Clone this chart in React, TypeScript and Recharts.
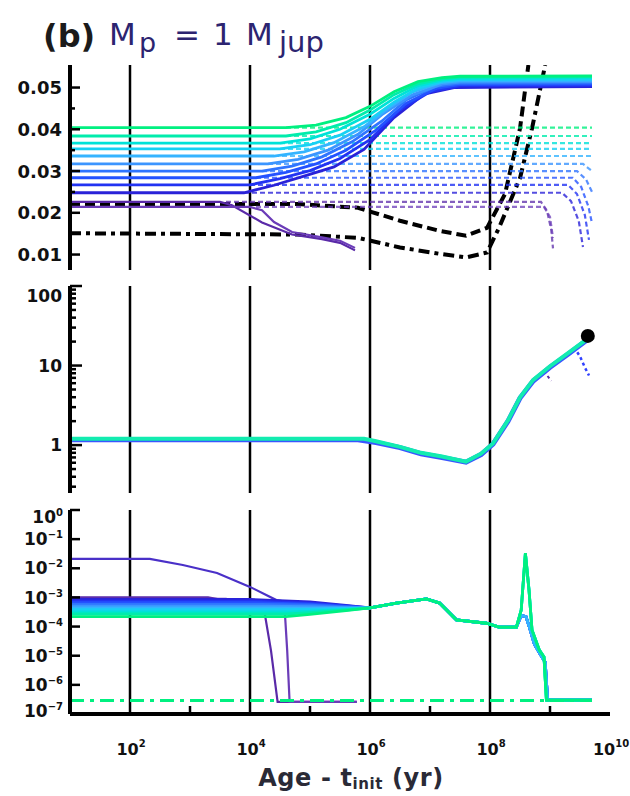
import React from 'react';
import { ComposedChart, Line, Scatter, XAxis, YAxis, ReferenceLine } from 'recharts';

type Pt = [number, number];

// x values are log10(Age - t_init / yr)
const xGrid = [2, 4, 6, 8];
const xMinor = [3, 5, 7, 9];
const xLabelExp = [2, 4, 6, 8, 10];

const modelColors = ['#2a22d8', '#2233f2', '#2452ff', '#2f74ff', '#3b95ff', '#34b4ff', '#18d0f4', '#00e2d8', '#00ecac', '#00f080'];
const purpleColors = ['#5a2aa8', '#6b3cb8', '#4a30c8'];

// ---------- Panel 1 (linear) ----------
const p1Major = [0.01, 0.02, 0.03, 0.04, 0.05];
const p1Ticks = [0.01, 0.015, 0.02, 0.025, 0.03, 0.035, 0.04, 0.045, 0.05];

const r1s0: Pt[] = [[1, .0248], [3.9, .0248], [4.4, .0266], [4.9, .0288], [5.4, .0310], [5.9, .0352], [6.4, .0428], [6.9, .0484], [7.4, .0500], [9.7, .0502]];
const r1s1: Pt[] = [[1, .0267], [4.0, .0267], [4.5, .0282], [5.0, .0301], [5.5, .0330], [6.0, .0375], [6.5, .0447], [7.0, .0490], [7.5, .0504], [9.7, .0505]];
const r1s2: Pt[] = [[1, .0284], [4.1, .0284], [4.6, .0297], [5.1, .0317], [5.6, .0350], [6.1, .0398], [6.6, .0462], [7.1, .0498], [7.5, .0507], [9.7, .0508]];
const r1s3: Pt[] = [[1, .0300], [4.2, .0300], [4.7, .0312], [5.2, .0334], [5.7, .0370], [6.2, .0420], [6.6, .0470], [7.1, .0503], [7.5, .0510], [9.7, .0511]];
const r1s4: Pt[] = [[1, .0317], [4.3, .0317], [4.8, .0328], [5.3, .0350], [5.8, .0388], [6.2, .0435], [6.7, .0482], [7.2, .0508], [7.5, .0513], [9.7, .0514]];
const r1s5: Pt[] = [[1, .0336], [4.4, .0336], [4.9, .0346], [5.4, .0368], [5.9, .0406], [6.3, .0450], [6.7, .0489], [7.2, .0512], [7.5, .0516], [9.7, .0517]];
const r1s6: Pt[] = [[1, .0353], [4.5, .0353], [5.0, .0363], [5.5, .0386], [6.0, .0424], [6.4, .0465], [6.8, .0498], [7.2, .0515], [7.5, .0519], [9.7, .0520]];
const r1s7: Pt[] = [[1, .0367], [4.5, .0367], [5.0, .0377], [5.5, .0400], [6.0, .0436], [6.4, .0474], [6.8, .0504], [7.2, .0518], [7.5, .0522], [9.7, .0523]];
const r1s8: Pt[] = [[1, .0384], [4.6, .0384], [5.1, .0394], [5.6, .0416], [6.0, .0446], [6.4, .0483], [6.8, .0509], [7.2, .0521], [7.5, .0525], [9.7, .0526]];
const r1s9: Pt[] = [[1, .0404], [4.6, .0404], [5.1, .0410], [5.6, .0428], [6.0, .0455], [6.4, .0490], [6.8, .0514], [7.2, .0524], [7.5, .0527], [9.7, .0528]];
const r1Solid = [r1s0, r1s1, r1s2, r1s3, r1s4, r1s5, r1s6, r1s7, r1s8, r1s9];

const r1d0: Pt[] = [[3.9, .0248], [9.2, .0248], [9.35, .0228], [9.48, .0180], [9.55, .0118]];
const r1d1: Pt[] = [[4.0, .0267], [9.3, .0267], [9.45, .0245], [9.58, .0195], [9.65, .0135]];
const r1d2: Pt[] = [[4.1, .0284], [9.38, .0284], [9.52, .0262], [9.64, .0215], [9.7, .0175]];
const r1d3: Pt[] = [[4.2, .0300], [9.45, .0300], [9.6, .0280], [9.7, .0250]];
const r1d4: Pt[] = [[4.3, .0317], [9.55, .0317], [9.7, .0300]];
const r1d5: Pt[] = [[4.4, .0336], [9.7, .0336]];
const r1d6: Pt[] = [[4.5, .0353], [9.7, .0353]];
const r1d7: Pt[] = [[4.5, .0367], [9.7, .0367]];
const r1d8: Pt[] = [[4.6, .0384], [9.7, .0384]];
const r1d9: Pt[] = [[4.6, .0404], [9.7, .0404]];
const r1Dashed = [r1d0, r1d1, r1d2, r1d3, r1d4, r1d5, r1d6, r1d7, r1d8, r1d9];

const r1pA: Pt[] = [[1, .0226], [3.5, .0226], [3.7, .0218], [4.2, .0177], [4.7, .0148], [5.2, .0137], [5.5, .0128], [5.75, .0110]];
const r1pB: Pt[] = [[1, .0214], [4.0, .0214], [4.2, .0206], [4.4, .0178], [4.7, .0154], [5.2, .0141], [5.5, .0133], [5.75, .0116]];
const r1pAd: Pt[] = [[3.6, .0226], [8.85, .0226], [8.95, .0205], [9.02, .0160], [9.05, .0115]];
const r1pBd: Pt[] = [[4.1, .0214], [8.9, .0214], [9.0, .0190], [9.05, .0140]];

const r1BlackDash: Pt[] = [[1, .0221], [4.8, .0221], [5.8, .0212], [6.5, .0181], [7.15, .0157], [7.6, .0145], [7.95, .0164], [8.25, .0245], [8.5, .0402], [8.64, .0554]];
const r1BlackDashDot: Pt[] = [[1, .0151], [4.8, .0148], [5.8, .0140], [6.5, .0117], [7.15, .0102], [7.6, .0093], [7.95, .0105], [8.15, .0164], [8.5, .0283], [8.7, .0402], [8.92, .0554]];

// ---------- Panel 2 (log) ----------
const p2Ticks = [0.3, 0.4, 0.5, 0.6, 0.7, 0.8, 0.9, 1, 2, 3, 4, 5, 6, 7, 8, 9, 10, 20, 30, 40, 50, 60, 70, 80, 90, 100];
const p2Major = [1, 10, 100];

const r2Blue: Pt[] = [[1, 1.17], [5.8, 1.17], [6.1, 1.08], [6.5, 0.93], [6.85, 0.78], [7.2, 0.70], [7.6, 0.61], [7.85, 0.76], [8.05, 1.03], [8.3, 2.0], [8.5, 3.9], [8.72, 6.4], [9.0, 9.5], [9.3, 13.9], [9.6, 20.5]];
const r2Green: Pt[] = [[1, 1.2], [5.9, 1.2], [6.1, 1.12], [6.5, 0.95], [6.85, 0.80], [7.2, 0.72], [7.6, 0.62], [7.85, 0.78], [8.05, 1.05], [8.3, 2.05], [8.5, 4.0], [8.72, 6.6], [9.0, 9.8], [9.3, 14.3], [9.6, 21], [9.63, 23]];
const r2BlueEnd: Pt[] = [[9.4, 17], [9.5, 13], [9.58, 9.5], [9.65, 7.5]];
const r2PurpleEnd: Pt[] = [[8.9, 8.5], [9.02, 6.4]];
const r2Final = [{ x: 9.63, y: 23.6 }];

// ---------- Panel 3 (log) ----------
const p3Ticks = [1e-7, 1e-6, 1e-5, 1e-4, 1e-3, 1e-2, 1e-1, 1];
const p3Exp = [-7, -6, -5, -4, -3, -2, -1, 0];

const r3TailGreen: Pt[] = [[6.0, 4.4e-4], [6.44, 6.4e-4], [6.94, 8.9e-4], [7.16, 6.4e-4], [7.44, 1.7e-4], [7.94, 1.3e-4], [8.15, 9.6e-5], [8.44, 9.6e-5], [8.52, 3.7e-4], [8.59, 3.3e-2], [8.65, 1.8e-3], [8.70, 7.6e-5], [8.82, 1.6e-5], [8.90, 9.1e-6], [8.94, 3.0e-7], [9.70, 3.0e-7]];
const r3TailBlue: Pt[] = [[6.0, 4.4e-4], [6.44, 6.4e-4], [6.94, 8.9e-4], [7.16, 6.4e-4], [7.44, 1.7e-4], [7.94, 1.3e-4], [8.15, 9.6e-5], [8.44, 9.6e-5], [8.52, 2.4e-4], [8.6, 2.2e-4], [8.66, 9e-5], [8.74, 2.5e-5], [8.84, 1.1e-5], [8.92, 6e-6], [8.96, 3.0e-7], [9.70, 3.0e-7]];
const r3h0: Pt[] = [[1, 8.5e-4], [4.0, 8.5e-4], [5.0, 7.0e-4], [5.6, 5.3e-4]];
const r3h1: Pt[] = [[1, 7.5e-4], [4.0, 7.5e-4], [5.0, 6.4e-4], [5.6, 5.1e-4]];
const r3h2: Pt[] = [[1, 6.6e-4], [4.1, 6.6e-4], [5.0, 5.9e-4], [5.6, 4.9e-4]];
const r3h3: Pt[] = [[1, 5.8e-4], [4.2, 5.8e-4], [5.0, 5.4e-4], [5.6, 4.7e-4]];
const r3h4: Pt[] = [[1, 5.0e-4], [4.3, 5.0e-4], [5.0, 4.8e-4], [5.6, 4.5e-4]];
const r3h5: Pt[] = [[1, 4.4e-4], [4.4, 4.4e-4], [5.0, 4.3e-4], [5.6, 4.3e-4]];
const r3h6: Pt[] = [[1, 3.8e-4], [4.5, 3.8e-4], [5.0, 3.9e-4], [5.6, 4.1e-4]];
const r3h7: Pt[] = [[1, 3.2e-4], [4.5, 3.2e-4], [5.0, 3.4e-4], [5.6, 3.9e-4]];
const r3h8: Pt[] = [[1, 2.7e-4], [4.6, 2.7e-4], [5.0, 3.0e-4], [5.6, 3.7e-4]];
const r3h9: Pt[] = [[1, 2.2e-4], [4.6, 2.2e-4], [5.0, 2.6e-4], [5.6, 3.5e-4]];
const r3Heads = [r3h0, r3h1, r3h2, r3h3, r3h4, r3h5, r3h6, r3h7, r3h8, r3h9];

const r3pA: Pt[] = [[1, 2.1e-2], [2.33, 2.1e-2], [2.88, 1.3e-2], [3.45, 6.9e-3], [4.0, 2.3e-3], [4.44, 8.1e-4], [5.16, 4.4e-4], [5.75, 4.2e-4]];
const r3pB: Pt[] = [[1, 1.0e-3], [3.3, 1.0e-3], [3.9, 6e-4], [4.24, 3.3e-4], [4.35, 1.5e-5], [4.46, 2.6e-7], [5.78, 2.6e-7]];
const r3pC: Pt[] = [[1, 9e-4], [3.6, 9e-4], [4.2, 4.6e-4], [4.58, 3.3e-4], [4.62, 1.5e-5], [4.66, 2.6e-7], [5.78, 2.6e-7]];
const r3Floor: Pt[] = [[1, 2.9e-7], [9.7, 2.9e-7]];

// ---------- helpers ----------
const pts = (a: Pt[]) => a.map(([x, y]) => ({ x, y }));
const FONT = 'DejaVu Sans, Verdana, sans-serif';
const W = 630;
const MARGIN_R = 20;
const LEFT_W = 70;
const BORDER = { stroke: '#000', strokeWidth: 4 };

const near = (a: number, b: number) => Math.abs(a / b - 1) < 1e-6;

function xTick(dir: 1 | -1, withLabels: boolean) {
  return (props: any) => {
    const { x, y, payload } = props;
    const v = payload.value as number;
    const minor = xMinor.some((m) => near(m, v));
    const lab = withLabels && xLabelExp.some((e) => near(e, v));
    return (
      <g>
        {minor && <line x1={x} x2={x} y1={y} y2={y - dir * 8} stroke="#000" strokeWidth={2.5} />}
        {lab && (
          <text x={x + 1} y={y + 41} textAnchor="middle" fontFamily={FONT} fontWeight="bold" fontSize={16} fill="#111">
            10<tspan dy={-8} fontSize={10}>{String(v)}</tspan>
          </text>
        )}
      </g>
    );
  };
}

function yTick(side: 'left' | 'right', isMajor: (v: number) => boolean, label: ((v: number, x: number, y: number) => React.ReactNode) | null, majorLen = 10, minorLen = 5) {
  return (props: any) => {
    const { x, y, payload } = props;
    const v = payload.value as number;
    const len = isMajor(v) ? majorLen : minorLen;
    const dir = side === 'left' ? 1 : -1;
    return (
      <g>
        <line x1={x} x2={x + dir * len} y1={y} y2={y} stroke="#000" strokeWidth={2.5} />
        {side === 'left' && label ? label(v, x, y) : null}
      </g>
    );
  };
}

const p1IsMajor = (v: number) => p1Major.some((m) => near(m, v));
const p1Label = (v: number, x: number, y: number) =>
  p1IsMajor(v) ? (
    <text x={x - 8} y={y} dy="0.36em" textAnchor="end" fontFamily={FONT} fontWeight="bold" fontSize={18} fill="#111">
      {v.toFixed(2)}
    </text>
  ) : null;

const p2IsMajor = (v: number) => p2Major.some((m) => near(m, v));
const p2Label = (v: number, x: number, y: number) =>
  p2IsMajor(v) ? (
    <text x={x - 8} y={y + (v === 100 ? 10 : 0)} dy="0.36em" textAnchor="end" fontFamily={FONT} fontWeight="bold" fontSize={17} fill="#111">
      {String(v)}
    </text>
  ) : null;

const p3Label = (v: number, x: number, y: number) => {
  const i = p3Ticks.findIndex((t) => near(t, v));
  if (i < 0) return null;
  const e = p3Exp[i];
  const yy = e === 0 ? y + 7 : e === -7 ? y - 3 : y;
  return (
    <text x={x - 7} y={yy} dy="0.36em" textAnchor="end" fontFamily={FONT} fontWeight="bold" fontSize={17} fill="#111">
      10<tspan dy={-7} fontSize={10}>{e === 0 ? '0' : '\u2212' + String(-e)}</tspan>
    </text>
  );
};

const lineCommon = { type: 'linear' as const, dot: false, activeDot: false, isAnimationActive: false, dataKey: 'y', xAxisId: 'b', yAxisId: 'l', legendType: 'none' as const };

function App() {
  const xAxesFor = (bottomLabels: boolean, bottomHeight: number) => [
    <XAxis key="xb" xAxisId="b" type="number" dataKey="x" domain={[1, 10]} allowDataOverflow orientation="bottom" height={bottomHeight}
      ticks={bottomLabels ? [2, 3, 4, 5, 6, 7, 8, 9, 10] : xMinor} interval={0} tickSize={0} tickMargin={0} tickLine={false}
      axisLine={BORDER} tick={xTick(1, bottomLabels)} />,
    <XAxis key="xt" xAxisId="t" type="number" dataKey="x" domain={[1, 10]} allowDataOverflow orientation="top" height={0}
      ticks={xMinor} interval={0} tickSize={0} tickMargin={0} tickLine={false} axisLine={BORDER} tick={xTick(-1, false)} />,
  ];
  const gridFor = () => xGrid.map((g) => (
    <ReferenceLine key={'g' + g} x={g} xAxisId="b" yAxisId="l" stroke="#000" strokeWidth={2.5} ifOverflow="hidden" />
  ));

  const titleColor = '#2c2470';
  return (
    <div style={{ position: 'absolute', left: 0, top: 0, width: W, height: 796, background: '#fff', overflow: 'hidden' }}>
      <svg width={W} height={796} style={{ position: 'absolute', left: 0, top: 0 }}>
        <text x={43} y={47} fontFamily={FONT} fontWeight="bold" fontSize={32} fill="#1b1b1b">(b)</text>
        <text x={109} y={45} fontFamily={FONT} fontSize={31} fill={titleColor}>M</text>
        <text x={139} y={52} fontFamily={FONT} fontSize={27} fill={titleColor}>p</text>
        <text x={174} y={45} fontFamily={FONT} fontSize={31} fill={titleColor}>=</text>
        <text x={213} y={45} fontFamily={FONT} fontSize={31} fill={titleColor}>1</text>
        <text x={246} y={45} fontFamily={FONT} fontSize={31} fill={titleColor}>M</text>
        <text x={279} y={52} fontFamily={FONT} fontSize={29} fill={titleColor}>jup</text>
        <text x={351} y={786} textAnchor="middle" fontFamily={FONT} fontWeight="bold" fontSize={24} letterSpacing={0.6} fill="#2a2a36">
          Age - t<tspan dy={3} fontSize={15}>init</tspan><tspan dy={-3}> (yr)</tspan>
        </text>
      </svg>

      {/* Panel 1 */}
      <div style={{ position: 'absolute', left: 0, top: 0 }}>
        <ComposedChart width={W} height={275} margin={{ top: 65, right: MARGIN_R, bottom: 5, left: 0 }}>
          {xAxesFor(false, 0)}
          <YAxis yAxisId="l" orientation="left" width={LEFT_W} type="number" scale="linear" domain={[0.0063, 0.0554]} allowDataOverflow
            ticks={p1Ticks} interval={0} tickSize={0} tickMargin={0} tickLine={false} axisLine={BORDER} tick={yTick('left', p1IsMajor, p1Label)} />
          <YAxis yAxisId="r" orientation="right" width={0} type="number" scale="linear" domain={[0.0063, 0.0554]} allowDataOverflow
            ticks={p1Ticks} interval={0} tickSize={0} tickMargin={0} tickLine={false} axisLine={BORDER} tick={yTick('right', p1IsMajor, null)} />
          {gridFor()}
          <Line {...lineCommon} data={pts(r1BlackDash)} stroke="#000" strokeWidth={4} strokeDasharray="10 5" />
          <Line {...lineCommon} data={pts(r1BlackDashDot)} stroke="#000" strokeWidth={4} strokeDasharray="11 5 4 5" />
          {r1Dashed.map((d, i) => (
            <Line key={'d' + i} {...lineCommon} data={pts(d)} stroke={modelColors[i]} strokeWidth={2.2} strokeDasharray="5 3" strokeOpacity={0.8} />
          ))}
          <Line {...lineCommon} data={pts(r1pAd)} stroke={purpleColors[0]} strokeWidth={2.2} strokeDasharray="5 3" strokeOpacity={0.75} />
          <Line {...lineCommon} data={pts(r1pBd)} stroke={purpleColors[1]} strokeWidth={2.2} strokeDasharray="5 3" strokeOpacity={0.75} />
          <Line {...lineCommon} data={pts(r1pA)} stroke={purpleColors[0]} strokeWidth={2.2} />
          <Line {...lineCommon} data={pts(r1pB)} stroke={purpleColors[1]} strokeWidth={2.2} />
          {r1Solid.map((d, i) => (
            <Line key={'s' + i} {...lineCommon} xAxisId={i === 9 ? 't' : 'b'} data={pts(d)} stroke={modelColors[i]} strokeWidth={2.8} />
          ))}
        </ComposedChart>
      </div>

      {/* Panel 2 */}
      <div style={{ position: 'absolute', left: 0, top: 275 }}>
        <ComposedChart width={W} height={225} margin={{ top: 11, right: MARGIN_R, bottom: 7, left: 0 }}>
          {xAxesFor(false, 0)}
          <YAxis yAxisId="l" orientation="left" width={LEFT_W} type="number" scale="log" domain={[0.25, 100]} allowDataOverflow
            ticks={p2Ticks} interval={0} tickSize={0} tickMargin={0} tickLine={false} axisLine={BORDER} tick={yTick('left', p2IsMajor, p2Label, 12, 6)} />
          <YAxis yAxisId="r" orientation="right" width={0} type="number" scale="log" domain={[0.25, 100]} allowDataOverflow
            ticks={p2Ticks} interval={0} tickSize={0} tickMargin={0} tickLine={false} axisLine={BORDER} tick={yTick('right', p2IsMajor, null, 12, 6)} />
          {gridFor()}
          <Line {...lineCommon} data={pts(r2PurpleEnd)} stroke={purpleColors[0]} strokeWidth={2} strokeDasharray="3 3" />
          <Line {...lineCommon} data={pts(r2BlueEnd)} stroke="#3040ff" strokeWidth={2.5} strokeDasharray="3 3" />
          <Line {...lineCommon} data={pts(r2Blue)} stroke="#3a55ff" strokeWidth={5} />
          <Line {...lineCommon} xAxisId="t" data={pts(r2Green)} stroke="#12ecb0" strokeWidth={4} />
          <Scatter data={r2Final} dataKey="y" xAxisId="b" yAxisId="l" fill="#000" isAnimationActive={false}
            shape={(p: any) => <circle cx={p.cx} cy={p.cy} r={7} fill="#000" />} />
        </ComposedChart>
      </div>

      {/* Panel 3 */}
      <div style={{ position: 'absolute', left: 0, top: 500 }}>
        <ComposedChart width={W} height={296} margin={{ top: 10, right: MARGIN_R, bottom: 42, left: 0 }}>
          {xAxesFor(true, 40)}
          <YAxis yAxisId="l" orientation="left" width={LEFT_W} type="number" scale="log" domain={[1e-7, 1]} allowDataOverflow
            ticks={p3Ticks} interval={0} tickSize={0} tickMargin={0} tickLine={false} axisLine={BORDER} tick={yTick('left', () => true, p3Label)} />
          <YAxis yAxisId="r" orientation="right" width={0} type="number" scale="log" domain={[1e-7, 1]} allowDataOverflow
            ticks={p3Ticks} interval={0} tickSize={0} tickMargin={0} tickLine={false} axisLine={BORDER} tick={yTick('right', () => true, null)} />
          {gridFor()}
          <Line {...lineCommon} data={pts(r3pB)} stroke={purpleColors[0]} strokeWidth={2.2} />
          <Line {...lineCommon} data={pts(r3pC)} stroke={purpleColors[1]} strokeWidth={2.2} />
          <Line {...lineCommon} data={pts(r3pA)} stroke={purpleColors[2]} strokeWidth={2.2} />
          {r3Heads.map((h, i) => (
            <Line key={'h' + i} {...lineCommon} data={pts([...h, ...(i < 6 ? r3TailBlue : r3TailGreen)])} stroke={modelColors[i]} strokeWidth={2.8} />
          ))}
          <Line {...lineCommon} xAxisId="t" data={pts(r3Floor)} stroke="#00f080" strokeWidth={3} strokeDasharray="14 6 4 6" />
        </ComposedChart>
      </div>
    </div>
  );
}

export default App;
